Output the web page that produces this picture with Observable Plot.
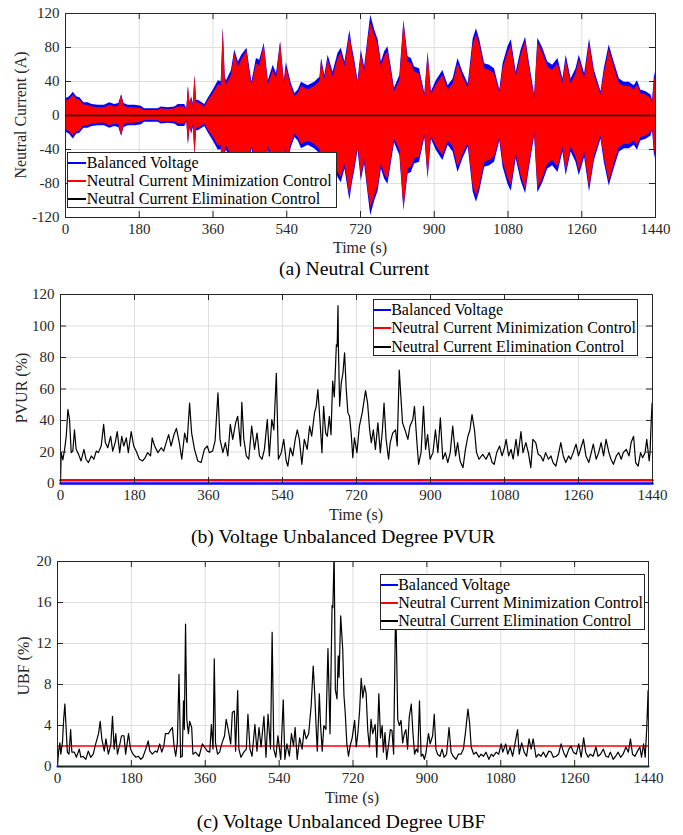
<!DOCTYPE html>
<html><head><meta charset="utf-8">
<script src="https://cdn.jsdelivr.net/npm/d3@7"></script>
<script src="https://cdn.jsdelivr.net/npm/@observablehq/plot@0.6"></script>
<style>
body{margin:0;background:#fff;}
#root{position:relative;width:683px;height:835px;overflow:hidden;font-family:"Liberation Serif","Times New Roman",serif;color:#262626;background:#fff;}
.panel{position:absolute;left:0;}
.txt{position:absolute;white-space:nowrap;transform:translate(-50%,-50%);line-height:1;}
.ylab{position:absolute;white-space:nowrap;transform:translate(-50%,-50%) rotate(-90deg);font-size:16px;line-height:1;}
.xlab{font-size:16px;}
.cap{font-size:19.6px;color:#000;}
.leg{position:absolute;background:#fff;border:1px solid #262626;box-sizing:border-box;font-size:16px;color:#000;}
.row{position:absolute;left:0;height:18px;line-height:18px;white-space:nowrap;}
.sw{position:absolute;left:0;top:8px;height:0;border-top:2px solid #000;}
.lt{position:absolute;top:0;white-space:nowrap;}
</style>
</head><body><div id="root"></div>
<script>
// ---------- shared ----------
const timeTicks = [0,180,360,540,720,900,1080,1260,1440];
const seriesNames = ["Balanced Voltage","Neutral Current Minimization Control","Neutral Current Elimination Control"];
const seriesColors = ["#0000ff","#ff0000","#000000"];

// ---------- (a) Neutral Current : envelope amplitude (A) ----------
const aTicksY = [-120,-80,-40,0,40,80,120];
const aTime = [
 0,2,10,19,27,35,45,55,65,80,
 95,108,120,130,137,143,153,170,185,193,
 210,226,234,250,267,275,291,296,300,304,
 308,312,316,320,324,340,348,360,373,380,
 385,390,393,405,413,422,430,443,450,455,
 466,474,485,495,507,515,525,534,539,551,
 560,568,576,592,608,621,625,633,641,653,
 665,673,682,694,700,706,714,722,730,738,
 745,755,763,771,779,787,795,803,816,826,
 836,844,852,864,877,885,893,905,921,934,
 946,958,970,983,995,1003,1011,1023,1035,1047,
 1060,1068,1080,1088,1100,1112,1123,1132,1145,1153,
 1165,1177,1189,1202,1214,1222,1234,1246,1254,1267,
 1279,1291,1307,1315,1327,1339,1352,1364,1376,1388,
 1396,1404,1417,1429,1433,1438,1440];
const aBalanced = [
 10,20,22,27.5,22,21,15,15,13,12,
 12,15,13,14,24.5,14,12,12,11,8,
 8,8,10,9,10,13,13,8,34,15,
 22,14,47,18,18,13,20,29.5,41,40,
 103,45,41,53,77,63,71,79,55,39,
 67,65,85,41,59,49,87,41,62,38,
 26,30,39,35,39,45,67,47,71,51,
 73,79,63,100,80,65,41,77,57,90,
 118,100,89,63,75,81,57,32,47,112,
 69,67,57,55,26,75,28,41,53,35,
 43,67,51,37,90,102,89,61,59,55,
 30,61,81,89,51,77,92,63,24,91,
 79,63,59,67,43,71,43,55,71,49,
 90,53,28,55,83,63,43,39,39,35,
 41,30,28,24,18,51,45];
const aMinimization = [
 8,17,19,24,19,18,12,12,10,9,
 9,12,10,11,24,11,9,9,8,6,
 6,6,8,7,8,10,10,6,34,12,
 20,11,47,15,15,10,17,25,36,35,
 102,40,36,47,73,57,65,76,49,34,
 61,58,83,36,53,43,86,36,57,33,
 22,26,34,30,34,40,65,42,66,45,
 67,73,57,94,74,59,36,72,51,86,
 108,94,83,57,69,75,51,28,41,110,
 63,61,51,49,22,72,24,36,47,30,
 37,61,45,32,83,95,82,55,53,49,
 26,55,74,82,45,71,87,57,20,86,
 73,57,53,61,37,66,37,49,65,43,
 85,47,24,49,77,57,37,34,34,30,
 36,26,24,20,15,45,41];
const aElimTime = [0,1440];
const aElimination = [0,0];

// ---------- (b) PVUR (%) ----------
const bTicksY = [0,20,40,60,80,100,120];
const bTime = [
 0,1.6,5.7,10,14,18,22,26,30,34,
 38,44,50,57,62,68,75,81,87,92,
 99,105,109,115,122,127,133,138,144,149,
 154,160,165,172,178,184,192,200,206,212,
 219,223,229,237,245,251,257,263,269,276,
 282,289,295,302,308,314,319,326,334,342,
 350,357,362,370,376,383,388,395,401,407,
 413,419,426,431,438,441,446,452,458,465,
 472,478,484,490,496,503,508,514,519,525,
 530,537,543,549,553,559,565,571,576,581,
 587,593,600,606,611,618,622,626,631,636,
 640,645,649,654,658,662,666,671,673,675,
 676,679,683,687,691,695,699,703,707,711,
 715,721,727,734,742,747,752,756,761,766,
 772,778,783,787,792,798,802,808,815,819,
 824,828,832,838,845,850,857,861,867,871,
 877,883,888,893,899,906,912,918,924,930,
 936,942,948,954,961,966,972,979,985,991,
 996,1001,1007,1012,1018,1027,1035,1043,1050,1055,
 1061,1068,1074,1080,1084,1090,1096,1101,1108,1113,
 1120,1125,1132,1138,1144,1149,1156,1162,1168,1174,
 1180,1187,1193,1198,1205,1212,1217,1223,1229,1236,
 1241,1247,1254,1260,1266,1272,1278,1285,1290,1296,
 1303,1309,1315,1321,1327,1334,1339,1345,1352,1358,
 1364,1369,1376,1383,1388,1394,1399,1405,1411,1416,
 1422,1426,1432,1434,1437,1439,1440];
const bElimination = [
 0,19.6,15,21.7,30,47,40.6,19.6,20.6,34,
 21.7,18.5,14.3,21.7,15.4,13.3,17.5,15.4,20.6,19.6,
 23.8,37.5,26,22.7,30,20.6,26,33,19.6,30,
 23.8,29,19.6,33,23.8,20.6,15.4,14.3,16.4,19.6,
 17.5,29,23.8,19.6,22.7,20.6,26,31,23.8,31,
 35,26,15.4,32,26,51,32,21.7,14.3,13.3,
 21.7,23.8,19.6,20.6,27,57.5,28,19.6,26,17.5,
 37.5,28,38.5,42.7,23.8,51.6,28,17.5,15.4,36.4,
 21.7,32,17.5,15.4,21.7,40.6,17.5,40.6,34,70,
 15.4,19.6,28,14.3,11,22.7,17.5,28,34,28,
 12.2,28,21.7,36.4,30,45,49,59.6,40.6,19.6,
 49,32,30,42.7,31,65,55,88,87,113,
 87,49,64,70,83,60,45,42.7,32,16.4,
 29,19.6,36.4,45,59,51,34,26,34,21.7,
 38.5,19.6,34,51,28,15.4,26,32,34,23.8,
 72,55,38.5,34,28,36.4,40.6,49,26,12.2,
 19.6,49,21.7,31,15.4,19.6,34,19.6,41.7,15.4,
 19.6,13.3,19.6,36.4,17.5,26,14.3,10,21.7,30,
 34,43.8,34,19.6,15.4,18.5,15.4,19.6,13.3,12.2,
 19.6,23.8,17.5,22.7,28,17.5,21.7,15.4,28,17.5,
 33,19.6,26,19.6,10,28,26,18.5,17.5,14.3,
 19.6,15.4,17.5,13.3,11,19.6,26,17.5,13.3,17.5,
 15.4,19.6,25,17.5,22.7,28,17.5,13.3,18.5,25,
 15.4,19.6,26,17.5,28,19.6,15.4,12.2,17.5,19.6,
 15.4,19.6,21.7,17.5,26,30,13.3,11,19.6,16.4,
 19.6,28,14.3,19.6,40.6,51,49];
const bFlatTime = [0,1440];
const bMinimization = [2,2];
const bBalanced = [0,0];

// ---------- (c) UBF (%) ----------
const cTicksY = [0,4,8,12,16,20];
const cTime = [
 0,2.4,5.7,8,12,15,18,20,24,28,
 32,35,41,46,53,57,62,69,75,81,
 87,93,100,104,108,114,118,124,130,134,
 138,142,146,152,156,162,166,173,178,184,
 191,197,203,208,215,221,225,231,238,243,
 249,254,259,263,270,276,280,284,288,292,
 296,300,304,307,309,312,315,319,322,327,
 330,336,345,353,358,365,371,375,379,382,
 385,390,395,401,407,411,416,422,426,431,
 434,439,442,447,454,460,464,469,474,481,
 486,491,496,503,508,513,519,523,527,532,
 537,544,550,554,559,565,570,575,579,584,
 590,596,601,606,612,618,623,627,630,633,
 638,641,645,649,654,659,664,669,671,674,
 677,681,684,686,690,695,698,701,705,709,
 713,718,724,728,732,736,740,744,748,752,
 756,760,764,768,774,778,783,787,791,794,
 798,802,807,811,815,819,823,825,829,833,
 837,841,845,849,853,857,862,866,870,874,
 878,882,886,890,894,898,904,908,914,918,
 922,926,932,937,942,948,954,959,964,971,
 977,983,989,994,1000,1004,1008,1014,1020,1027,
 1032,1038,1044,1051,1057,1062,1069,1075,1081,1085,
 1092,1097,1103,1109,1115,1121,1125,1131,1137,1143,
 1149,1154,1159,1166,1172,1178,1184,1190,1197,1203,
 1208,1215,1221,1227,1233,1239,1246,1251,1257,1264,
 1270,1276,1282,1287,1293,1298,1305,1312,1317,1323,
 1330,1336,1342,1347,1354,1360,1366,1372,1378,1385,
 1391,1396,1401,1407,1412,1419,1423,1428,1432,1436,
 1439,1440];
const cElimination = [
 0,1.4,2.3,1.2,2.3,4.6,6.1,4.5,1.4,1.2,
 3.6,1.4,1.4,0.9,1.7,0.9,1.0,0.7,1.5,0.9,
 1.2,2.2,3.2,4.4,2.7,1.5,2.7,1.2,2.2,4.9,
 1.7,3.2,1.2,2.2,3.0,3.0,1.2,3.2,1.7,1.2,
 0.9,1.0,0.7,0.9,1.7,2.5,1.5,1.2,1.5,1.4,
 2.2,1.4,2.0,3.2,3.2,3.6,3.8,2.0,1.0,2.3,
 9.0,0.9,1.0,6.4,3.6,13.9,4.6,3.2,4.4,3.8,
 1.2,1.4,1.0,2.2,1.9,1.5,1.4,4.1,1.7,10.5,
 2.3,1.2,1.4,2.3,3.0,4.6,3.6,2.2,5.3,5.4,
 1.5,7.4,1.7,0.9,1.4,1.7,5.1,1.7,1.0,4.1,
 1.5,3.8,1.9,4.9,0.9,5.1,1.7,13.1,1.7,0.9,
 3.0,0.7,6.5,0.7,2.2,1.0,3.2,2.0,3.8,0.7,
 2.8,1.7,3.6,2.7,3.2,5.9,9.8,6.9,4.0,1.5,
 7.1,4.0,1.5,4.0,3.6,11.5,3.2,15.7,15.5,21,
 7.5,6.6,10.8,8.7,14.7,11.4,6.9,5.3,2.2,1.0,
 2.0,2.8,4.5,1.9,3.3,5.4,8.6,6.7,7.9,7.1,
 3.5,1.9,4.6,3.2,4.1,0.9,7.1,2.8,4.0,1.4,
 3.3,0.7,2.2,3.6,3.5,1.2,13.2,14,4.6,4.0,
 4.5,2.3,3.2,3.6,1.7,4.8,6.1,3.3,1.2,1.7,
 1.4,6.4,1.0,1.2,0.7,1.4,3.2,2.2,3.0,5.1,
 1.7,1.2,1.0,1.7,0.9,1.2,3.8,1.4,1.0,0.7,
 1.2,1.2,1.7,3.3,5.6,4.3,1.9,1.2,1.4,0.9,
 1.2,1.0,1.4,0.7,1.2,1.0,1.4,1.2,2.2,1.4,
 2.2,1.2,1.9,1.0,2.3,3.6,1.2,2.3,1.4,1.0,
 2.7,1.7,2.7,0.9,1.2,1.0,1.4,0.9,1.5,1.4,
 0.9,1.0,1.2,2.2,1.4,0.9,1.7,2.0,1.4,1.2,
 2.2,0.9,2.8,1.4,0.9,1.2,1.0,1.9,1.0,1.2,
 1.7,1.0,0.9,1.4,0.7,1.0,1.4,0.9,1.2,1.9,
 1.4,2.7,1.2,1.0,1.4,1.9,0.9,2.2,0.9,4.0,
 7.4,4.6];
const cFlatTime = [0,1440];
const cMinimization = [2,2];
const cBalanced = [0,0];

// ---------- helpers ----------
const zip = (t, v) => t.map((x, i) => ({t: x, v: v[i]}));
const root = document.getElementById("root");
const fmt = d => String(d);

function addText(cls, text, x, y) {
  const el = document.createElement("div");
  el.className = cls; el.textContent = text;
  el.style.left = x + "px"; el.style.top = y + "px";
  root.appendChild(el);
}
function addLegend(left, top, width, height, swLen, rowTops) {
  const box = document.createElement("div");
  box.className = "leg";
  Object.assign(box.style, {left: left + "px", top: top + "px", width: width + "px", height: height + "px"});
  seriesNames.forEach((name, i) => {
    const row = document.createElement("div");
    row.className = "row";
    row.style.top = (rowTops[i] - 10) + "px";
    row.style.width = (width - 2) + "px";
    const sw = document.createElement("div");
    sw.className = "sw";
    sw.style.width = swLen + "px";
    sw.style.borderTopColor = seriesColors[i];
    const tx = document.createElement("div");
    tx.className = "lt";
    tx.textContent = name;
    tx.style.left = (swLen + 0.5) + "px";
    row.appendChild(sw); row.appendChild(tx);
    box.appendChild(row);
  });
  root.appendChild(box);
}

function panel({top, height, mt, mb, ml, mr, yDomain, yTicks, dataMarks}) {
  const plotW = 683 - ml - mr, plotH = height - mt - mb;
  const tl = 6;
  const dy = tl * (yDomain[1] - yDomain[0]) / plotH;
  const dx = tl * 1440 / plotW;
  const inner = timeTicks.slice(1, -1), innerY = yTicks.slice(1, -1);
  const svg = Plot.plot({
    width: 683, height,
    marginTop: mt, marginBottom: mb, marginLeft: ml, marginRight: mr,
    x: {domain: [0, 1440]},
    y: {domain: yDomain},
    style: {fontFamily: "Liberation Serif, Times New Roman, serif", fontSize: "15px", color: "#262626", background: "transparent", overflow: "visible"},
    marks: [
      Plot.gridX(timeTicks, {stroke: "#dedede", strokeOpacity: 1}),
      Plot.gridY(yTicks, {stroke: "#dedede", strokeOpacity: 1}),
      ...dataMarks,
      Plot.frame({stroke: "#262626"}),
      Plot.ruleX(inner, {x: d => d, y1: yDomain[0], y2: yDomain[0] + dy, stroke: "#262626"}),
      Plot.ruleX(inner, {x: d => d, y1: yDomain[1], y2: yDomain[1] - dy, stroke: "#262626"}),
      Plot.ruleY(innerY, {y: d => d, x1: 0, x2: dx, stroke: "#262626"}),
      Plot.ruleY(innerY, {y: d => d, x1: 1440, x2: 1440 - dx, stroke: "#262626"}),
      Plot.axisX(timeTicks, {tickSize: 0, tickPadding: 6, label: null, tickFormat: fmt}),
      Plot.axisY(yTicks, {tickSize: 0, tickPadding: 6, label: null, tickFormat: fmt})
    ]
  });
  svg.classList.add("panel");
  svg.style.top = top + "px";
  root.appendChild(svg);
}

// ---------- panel (a) ----------
const aEnv = aTime.map((t, i) => ({t, b: aBalanced[i], r: aMinimization[i]}));
panel({
  top: 0, height: 258, mt: 13, mb: 41, ml: 65, mr: 28,
  yDomain: [-120, 120], yTicks: aTicksY,
  dataMarks: [
    Plot.areaY(aEnv, {x: "t", y1: d => -d.b, y2: "b", fill: seriesColors[0], curve: "linear"}),
    Plot.areaY(aEnv, {x: "t", y1: d => -d.r, y2: "r", fill: seriesColors[1], curve: "linear"}),
    Plot.lineY(zip(aElimTime, aElimination), {x: "t", y: "v", stroke: seriesColors[2], strokeWidth: 1.5})
  ]
});
addText("ylab", "Neutral Current (A)", 21, 115);
addText("txt xlab", "Time (s)", 360, 248);
addText("txt cap", "(a) Neutral Current", 354, 269);
addLegend(67.3, 152.3, 270, 56, 18, [10.4, 28.7, 47]);

// ---------- panel (b) ----------
panel({
  top: 280, height: 243, mt: 14, mb: 40, ml: 60, mr: 31,
  yDomain: [0, 120], yTicks: bTicksY,
  dataMarks: [
    Plot.lineY(zip(bFlatTime, bBalanced), {x: "t", y: "v", stroke: seriesColors[0], strokeWidth: 2.5}),
    Plot.lineY(zip(bFlatTime, bMinimization), {x: "t", y: "v", stroke: seriesColors[1], strokeWidth: 2.5}),
    Plot.lineY(zip(bTime, bElimination), {x: "t", y: "v", stroke: seriesColors[2], strokeWidth: 1.2, clip: true})
  ]
});
addText("ylab", "PVUR (%)", 22, 388);
addText("txt xlab", "Time (s)", 356, 515);
addText("txt cap", "(b) Voltage Unbalanced Degree PVUR", 343, 537);
addLegend(372.7, 299, 265.3, 56.7, 17, [11, 29.3, 47.7]);

// ---------- panel (c) ----------
panel({
  top: 548, height: 258, mt: 13, mb: 40, ml: 57, mr: 35,
  yDomain: [0, 20], yTicks: cTicksY,
  dataMarks: [
    Plot.lineY(zip(cFlatTime, cBalanced), {x: "t", y: "v", stroke: seriesColors[0], strokeWidth: 2.2}),
    Plot.lineY(zip(cFlatTime, cMinimization), {x: "t", y: "v", stroke: seriesColors[1], strokeWidth: 1.4}),
    Plot.lineY(zip(cTime, cElimination), {x: "t", y: "v", stroke: seriesColors[2], strokeWidth: 1.2, clip: true})
  ]
});
addText("ylab", "UBF (%)", 24, 666);
addText("txt xlab", "Time (s)", 352, 798);
addText("txt cap", "(c) Voltage Unbalanced Degree UBF", 341, 822);
addLegend(379.7, 574.3, 265.6, 56, 17, [10.4, 28.7, 47]);
</script>
</body></html>
